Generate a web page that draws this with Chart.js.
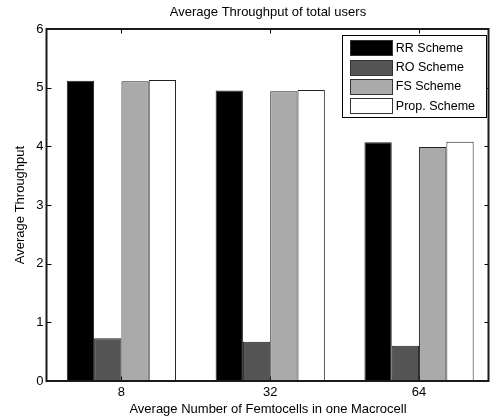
<!DOCTYPE html>
<html>
<head>
<meta charset="utf-8">
<script src="https://cdn.jsdelivr.net/npm/chart.js@4"></script>
<style>
html,body{margin:0;padding:0;background:#fff;}
#wrap{width:491px;height:419px;}
</style>
</head>
<body>
<div id="wrap"><canvas id="c" width="491" height="419"></canvas></div>
<script>
const categories = ['8', '32', '64'];
const seriesNames = ['RR Scheme', 'RO Scheme', 'FS Scheme', 'Prop. Scheme'];
const rrValues = [5.12, 4.95, 4.07];
const roValues = [0.73, 0.67, 0.60];
const fsValues = [5.11, 4.94, 3.99];
const propValues = [5.13, 4.96, 4.08];
const yTicks = [0, 1, 2, 3, 4, 5, 6];

const FONT = "'Liberation Sans', Arial, Helvetica, sans-serif";
const fills = ['#000000', '#555555', '#aaaaaa', '#ffffff'];

function toPoints(vals) { return vals.map((v, i) => ({ x: i + 1, y: v })); }

const datasets = [rrValues, roValues, fsValues, propValues].map((vals, k) => ({
  label: seriesNames[k],
  data: toPoints(vals),
  backgroundColor: fills[k],
  borderColor: '#222222',
  borderWidth: 1,
  categoryPercentage: 0.734,
  barPercentage: 1.0
}));

const framePlugin = {
  id: 'frame',
  beforeDatasetsDraw(chart) {
    const { ctx, chartArea: a, scales } = chart;
    ctx.save();
    ctx.strokeStyle = '#000';
    ctx.lineWidth = 1;
    const tl = 4.5;
    yTicks.forEach(v => {
      const y = Math.round(scales.y.getPixelForValue(v)) + 0.5;
      ctx.beginPath(); ctx.moveTo(a.left, y); ctx.lineTo(a.left + tl, y); ctx.stroke();
      ctx.beginPath(); ctx.moveTo(a.right, y); ctx.lineTo(a.right - tl, y); ctx.stroke();
    });
    categories.forEach((c, i) => {
      const x = Math.round(scales.x.getPixelForValue(i + 1)) + 0.5;
      ctx.beginPath(); ctx.moveTo(x, a.top); ctx.lineTo(x, a.top + tl); ctx.stroke();
      ctx.beginPath(); ctx.moveTo(x, a.bottom); ctx.lineTo(x, a.bottom - tl); ctx.stroke();
    });
    ctx.restore();
  },
  afterDatasetsDraw(chart) {
    const { ctx, chartArea: a } = chart;
    ctx.save();
    ctx.strokeStyle = '#1a1a1a';
    ctx.lineWidth = 2;
    ctx.strokeRect(a.left - 0.5, a.top, a.right - a.left, a.bottom - a.top);
    ctx.restore();
  },
  afterDraw(chart) {
    const { ctx, chartArea: a } = chart;
    const boxRight = a.right - 2.3, boxTop = a.top + 6;
    const boxW = 144.4, boxH = 81.7;
    const boxLeft = boxRight - boxW;
    ctx.save();
    ctx.fillStyle = '#fff';
    ctx.fillRect(boxLeft, boxTop, boxW, boxH);
    ctx.strokeStyle = '#000';
    ctx.lineWidth = 1;
    ctx.strokeRect(Math.round(boxLeft) + 0.5, Math.round(boxTop) + 0.5, Math.round(boxW), Math.round(boxH));
    ctx.font = '12.5px ' + FONT;
    ctx.textBaseline = 'middle';
    ctx.fillStyle = '#000';
    chart.data.datasets.forEach((ds, i) => {
      const cy = boxTop + 12.7 + i * 19.4;
      const sx = boxLeft + 7.5;
      ctx.fillStyle = ds.backgroundColor;
      ctx.fillRect(Math.round(sx), Math.round(cy - 7.5), 42, 15);
      ctx.strokeStyle = '#333';
      ctx.strokeRect(Math.round(sx) + 0.5, Math.round(cy - 7.5) + 0.5, 42, 15);
      ctx.fillStyle = '#000';
      ctx.fillText(ds.label, boxLeft + 53.5, cy + 0.5);
    });
    ctx.restore();
  }
};

new Chart(document.getElementById('c'), {
  type: 'bar',
  data: { datasets },
  options: {
    responsive: false,
    devicePixelRatio: 1,
    animation: false,
    layout: { padding: { left: 0, right: 2, top: 0, bottom: 0 } },
    plugins: {
      legend: { display: false },
      tooltip: { enabled: false },
      title: {
        display: true,
        text: 'Average Throughput of total users',
        fullSize: false,
        color: '#000',
        font: { family: FONT, size: 13, weight: 'normal', lineHeight: 1.2 },
        padding: { top: 5, bottom: 8.4 }
      }
    },
    scales: {
      x: {
        type: 'linear',
        offset: false,
        min: 0.5,
        max: 3.47,
        grid: { display: false, drawTicks: false, offset: false },
        border: { display: false },
        afterBuildTicks(s) { s.ticks = categories.map((c, i) => ({ value: i + 1 })); },
        afterFit(s) { s.height = 38; },
        ticks: {
          color: '#000',
          padding: 4,
          maxRotation: 0,
          font: { family: FONT, size: 13 },
          callback: (v) => categories[v - 1] !== undefined ? categories[v - 1] : ''
        },
        title: {
          display: true,
          text: 'Average Number of Femtocells in one Macrocell',
          color: '#000',
          font: { family: FONT, size: 13, lineHeight: 1.2 },
          padding: { top: 0, bottom: 2 }
        }
      },
      y: {
        min: 0,
        max: 6,
        grid: { display: false, drawTicks: false },
        border: { display: false },
        afterBuildTicks(s) { s.ticks = yTicks.map(v => ({ value: v })); },
        afterFit(s) { s.width = 47; },
        ticks: {
          color: '#000',
          padding: 3.5,
          font: { family: FONT, size: 13 }
        },
        title: {
          display: true,
          text: 'Average Throughput',
          color: '#000',
          font: { family: FONT, size: 13, lineHeight: 1.2 },
          padding: { top: 12.7, bottom: 0 }
        }
      }
    }
  },
  plugins: [framePlugin]
});
</script>
</body>
</html>
